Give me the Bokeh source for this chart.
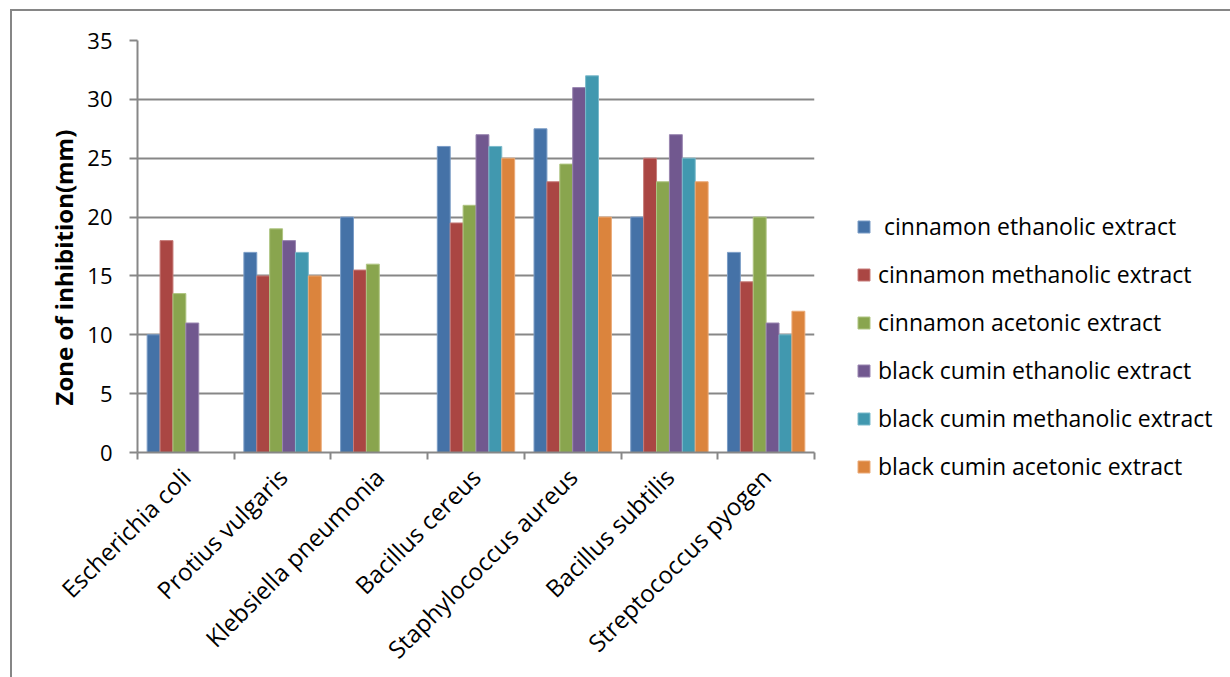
import math
import numpy as np
from bokeh.plotting import figure
from bokeh.models import ColumnDataSource, FixedTicker, Legend, LegendItem, Range1d, Title
from bokeh.embed import file_html
from bokeh.resources import INLINE

# ---- data ----
categories = ["Escherichia coli", "Protius vulgaris", "Klebsiella pneumonia",
              "Bacillus cereus", "Staphylococcus aureus", "Bacillus subtilis",
              "Streptococcus pyogen"]
series_names = [" cinnamon ethanolic extract", "cinnamon methanolic extract",
                "cinnamon acetonic extract", "black cumin ethanolic extract",
                "black cumin methanolic extract", "black cumin acetonic extract"]
cinnamon_ethanolic = [10, 17, 20, 26, 27.5, 20, 17]
cinnamon_methanolic = [18, 15, 15.5, 19.5, 23, 25, 14.5]
cinnamon_acetonic = [13.5, 19, 16, 21, 24.5, 23, 20]
black_cumin_ethanolic = [11, 18, 0, 27, 31, 27, 11]
black_cumin_methanolic = [0, 17, 0, 26, 32, 25, 10]
black_cumin_acetonic = [0, 15, 0, 25, 20, 23, 12]
y_ticks = [0, 5, 10, 15, 20, 25, 30, 35]
y_title = "Zone of inhibition(mm)"

series = [cinnamon_ethanolic, cinnamon_methanolic, cinnamon_acetonic,
          black_cumin_ethanolic, black_cumin_methanolic, black_cumin_acetonic]
colors = ["#4572A7", "#AA4643", "#89A54E", "#71588F", "#4198AF", "#DB843D"]
edge_colors = ["#7A9CC6", "#C77C7A", "#AFC582", "#9A86B1", "#7BBACB", "#EBAA78"]

FONT = "Open Sans"
GRID = "#878787"

p = figure(width=1218, height=666, output_backend="svg", toolbar_location=None,
           x_range=Range1d(0, len(categories)), y_range=Range1d(0, 35),
           min_border_left=125, min_border_right=0, min_border_top=29,
           min_border_bottom=225, frame_width=677, frame_height=412)
p.margin = (9, 0, 0, 10)
p.styles = {"border-left": "2px solid #868686", "border-top": "2px solid #868686"}
p.outline_line_color = None
p.background_fill_color = "white"
p.border_fill_color = "white"

n = len(series)
bw = 0.8 / n
items = []
for j, (vals, name) in enumerate(zip(series, series_names)):
    xs = [i + 0.1 + bw * (j + 0.5) for i in range(len(categories))]
    src = ColumnDataSource(dict(x=xs, top=vals))
    r = p.vbar(x="x", top="top", width=bw, bottom=0, source=src,
               fill_color=colors[j], line_color=edge_colors[j], line_width=1)
    items.append(LegendItem(label=name, renderers=[r]))

# x axis: labels at centres, ticks at category boundaries (minor ticks)
xt = FixedTicker(ticks=[i + 0.5 for i in range(len(categories))],
                 minor_ticks=list(range(len(categories) + 1)))
p.xaxis.ticker = xt
p.xaxis.major_label_overrides = {i + 0.5: c for i, c in enumerate(categories)}
p.xaxis.major_tick_in = 0
p.xaxis.major_tick_out = 0
p.xaxis.minor_tick_in = 0
p.xaxis.minor_tick_out = 7
p.xaxis.minor_tick_line_color = GRID
p.xaxis.minor_tick_line_width = 2
p.xaxis.axis_line_color = GRID
p.xaxis.axis_line_width = 2
p.xaxis.major_label_orientation = math.pi / 4
p.xaxis.major_label_text_font = FONT
p.xaxis.major_label_text_font_size = "24px"
p.xaxis.major_label_text_color = "black"
p.xaxis.major_label_standoff = 13
p.xgrid.grid_line_color = None

p.yaxis.ticker = FixedTicker(ticks=y_ticks)
p.yaxis.minor_tick_line_color = None
p.yaxis.major_tick_in = 0
p.yaxis.major_tick_out = 8
p.yaxis.major_tick_line_color = GRID
p.yaxis.major_tick_line_width = 2
p.yaxis.axis_line_color = GRID
p.yaxis.axis_line_width = 2
p.yaxis.major_label_text_font = FONT
p.yaxis.major_label_text_font_size = "22px"
p.yaxis.major_label_text_color = "black"
p.yaxis.major_label_standoff = 17
p.ygrid.grid_line_color = GRID
p.ygrid.grid_line_width = 2

ytitle = Title(text=y_title, align="left", offset=47,
               text_font=FONT, text_font_style="bold", text_font_size="24px",
               text_color="black")
p.add_layout(ytitle, "left")

legend = Legend(items=items, location=(42, -30), orientation="vertical")
legend.border_line_color = None
legend.background_fill_alpha = 0
legend.padding = 0
legend.margin = 0
legend.glyph_width = 15
legend.glyph_height = 15
legend.label_height = 20
legend.spacing = 16
legend.label_standoff = 7
legend.label_text_font = FONT
legend.label_text_font_size = "23px"
legend.label_text_color = "black"
p.add_layout(legend, "right")

open("out.html", "w").write(file_html(p, INLINE))
